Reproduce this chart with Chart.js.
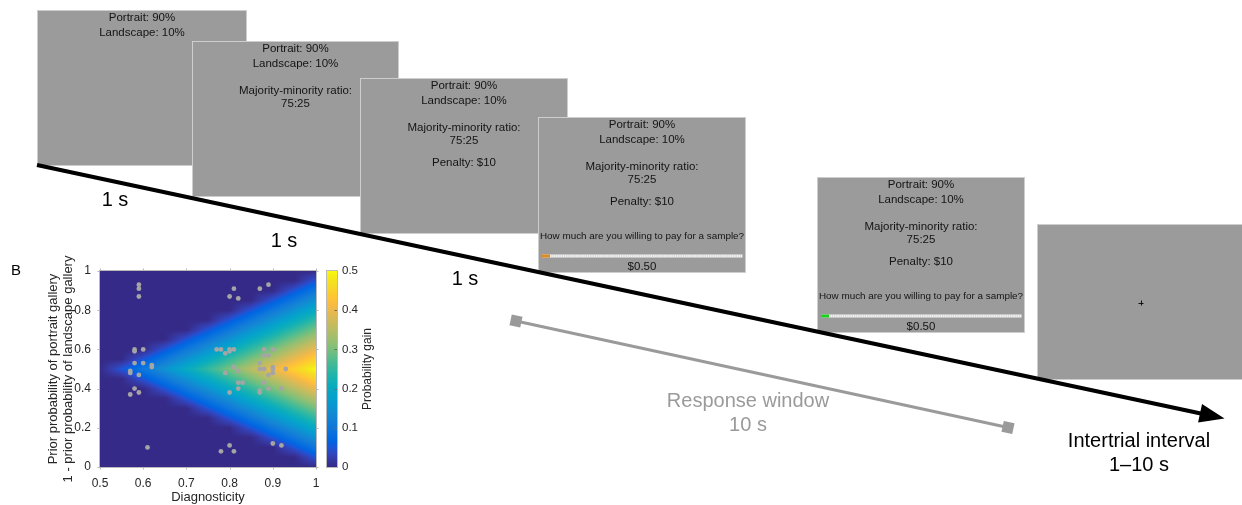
<!DOCTYPE html>
<html>
<head>
<meta charset="utf-8">
<title>Sampling task timeline and probability gain</title>
<script src="https://cdn.jsdelivr.net/npm/chart.js@4.4.1/dist/chart.umd.min.js"></script>
<style>
  html, body { margin: 0; padding: 0; background: #ffffff; }
  #wrap { position: relative; width: 1242px; height: 505px; overflow: hidden; }
  canvas { display: block; }
</style>
</head>
<body>
<div id="wrap"><canvas id="fig" width="1242" height="505"></canvas></div>
<script>
// ---------- Panel B data ----------
// Probability gain surface, sampled on a diagnosticity x prior grid
const diagnosticityGrid = [0.50, 0.55, 0.60, 0.65, 0.70, 0.75, 0.80, 0.85, 0.90, 0.95, 1.00];
const priorGrid = [0.00, 0.05, 0.10, 0.15, 0.20, 0.25, 0.30, 0.35, 0.40, 0.45, 0.50,
                   0.55, 0.60, 0.65, 0.70, 0.75, 0.80, 0.85, 0.90, 0.95, 1.00];
// one row per prior value (bottom to top), one column per diagnosticity value
const gainGrid = [
  [0, 0, 0, 0, 0, 0, 0, 0, 0, 0, 0],
  [0, 0, 0, 0, 0, 0, 0, 0, 0, 0, 0.05],
  [0, 0, 0, 0, 0, 0, 0, 0, 0, 0.05, 0.10],
  [0, 0, 0, 0, 0, 0, 0, 0, 0.05, 0.10, 0.15],
  [0, 0, 0, 0, 0, 0, 0, 0.05, 0.10, 0.15, 0.20],
  [0, 0, 0, 0, 0, 0, 0.05, 0.10, 0.15, 0.20, 0.25],
  [0, 0, 0, 0, 0, 0.05, 0.10, 0.15, 0.20, 0.25, 0.30],
  [0, 0, 0, 0, 0.05, 0.10, 0.15, 0.20, 0.25, 0.30, 0.35],
  [0, 0, 0, 0.05, 0.10, 0.15, 0.20, 0.25, 0.30, 0.35, 0.40],
  [0, 0, 0.05, 0.10, 0.15, 0.20, 0.25, 0.30, 0.35, 0.40, 0.45],
  [0, 0.05, 0.10, 0.15, 0.20, 0.25, 0.30, 0.35, 0.40, 0.45, 0.50],
  [0, 0, 0.05, 0.10, 0.15, 0.20, 0.25, 0.30, 0.35, 0.40, 0.45],
  [0, 0, 0, 0.05, 0.10, 0.15, 0.20, 0.25, 0.30, 0.35, 0.40],
  [0, 0, 0, 0, 0.05, 0.10, 0.15, 0.20, 0.25, 0.30, 0.35],
  [0, 0, 0, 0, 0, 0.05, 0.10, 0.15, 0.20, 0.25, 0.30],
  [0, 0, 0, 0, 0, 0, 0.05, 0.10, 0.15, 0.20, 0.25],
  [0, 0, 0, 0, 0, 0, 0, 0.05, 0.10, 0.15, 0.20],
  [0, 0, 0, 0, 0, 0, 0, 0, 0.05, 0.10, 0.15],
  [0, 0, 0, 0, 0, 0, 0, 0, 0, 0.05, 0.10],
  [0, 0, 0, 0, 0, 0, 0, 0, 0, 0, 0.05],
  [0, 0, 0, 0, 0, 0, 0, 0, 0, 0, 0]
];

// Trial conditions shown to participants
const sampleDiagnosticity = [
  0.59, 0.59, 0.59, 0.58, 0.58, 0.60, 0.58, 0.60, 0.62, 0.62, 0.57, 0.57, 0.59, 0.58, 0.59, 0.57, 0.61,
  0.81, 0.80, 0.82, 0.87, 0.89,
  0.77, 0.78, 0.79, 0.80, 0.80, 0.81, 0.88, 0.90, 0.88, 0.89,
  0.87, 0.81, 0.82, 0.87, 0.88, 0.90, 0.90, 0.90, 0.93, 0.89, 0.79,
  0.82, 0.83, 0.88, 0.82, 0.89, 0.92, 0.87, 0.87, 0.80,
  0.78, 0.80, 0.81, 0.90, 0.92
];
const samplePrior = [
  0.93, 0.91, 0.87, 0.60, 0.59, 0.60, 0.53, 0.53, 0.52, 0.51, 0.49, 0.48, 0.47, 0.40, 0.38, 0.37, 0.10,
  0.91, 0.87, 0.86, 0.91, 0.93,
  0.60, 0.60, 0.58, 0.60, 0.59, 0.60, 0.60, 0.60, 0.57, 0.57,
  0.53, 0.51, 0.49, 0.50, 0.50, 0.51, 0.50, 0.48, 0.50, 0.47, 0.48,
  0.43, 0.43, 0.43, 0.40, 0.40, 0.40, 0.39, 0.38, 0.38,
  0.08, 0.11, 0.08, 0.12, 0.11
];

const diagnosticityTicks = [0.5, 0.6, 0.7, 0.8, 0.9, 1];
const priorTicks = [0, 0.2, 0.4, 0.6, 0.8, 1];
const gainTicks = [0, 0.1, 0.2, 0.3, 0.4, 0.5];

// ---------- Panel A content ----------
const priorLines = ['Portrait: 90%', 'Landscape: 10%'];
const ratioLines = ['Majority-minority ratio:', '75:25'];
const penaltyLine = 'Penalty: $10';
const questionLine = 'How much are you willing to pay for a sample?';
const bidLine = '$0.50';
const stageLabels = ['1 s', '1 s', '1 s'];
const responseLabel = ['Response window', '10 s'];
const itiLabel = ['Intertrial interval', '1\u201310 s'];

// ---------- helpers ----------
const FONT = "'Liberation Sans', Arial, Helvetica, sans-serif";
Chart.defaults.font.family = FONT;
const TEXT_DARK = '#262626';

// parula colour map (every other entry of the 64-step table)
const PARULA = [
  [53,42,135],[54,55,160],[50,67,186],[32,83,212],[3,99,225],[4,109,224],[13,117,220],[18,125,216],
  [20,133,212],[16,142,210],[9,152,209],[6,160,205],[6,167,198],[10,172,190],[21,177,180],[37,181,169],
  [56,185,158],[77,188,146],[101,190,134],[124,191,123],[146,191,115],[165,190,107],[183,189,100],[200,188,93],
  [217,186,86],[233,185,78],[248,186,68],[255,195,55],[252,206,46],[247,217,38],[245,228,29],[246,242,19],[249,251,14]
];
const PARULA_POS = PARULA.map((_, i) => (i < 32 ? (2 * i) / 63 : 1));

function parula(t) {
  t = Math.max(0, Math.min(1, t));
  let k = 0;
  while (k < PARULA_POS.length - 2 && t > PARULA_POS[k + 1]) k++;
  const a = PARULA_POS[k], b = PARULA_POS[k + 1];
  const f = b > a ? (t - a) / (b - a) : 0;
  const c0 = PARULA[k], c1 = PARULA[k + 1];
  return [c0[0] + (c1[0] - c0[0]) * f, c0[1] + (c1[1] - c0[1]) * f, c0[2] + (c1[2] - c0[2]) * f];
}

function locate(arr, v) {
  if (v <= arr[0]) return 0;
  if (v >= arr[arr.length - 1]) return arr.length - 1;
  let k = 0;
  while (k < arr.length - 2 && v > arr[k + 1]) k++;
  return k + (v - arr[k]) / (arr[k + 1] - arr[k]);
}

function gainAt(d, p) {
  const fi = locate(diagnosticityGrid, d), fj = locate(priorGrid, p);
  const i0 = Math.floor(fi), j0 = Math.floor(fj);
  const i1 = Math.min(i0 + 1, diagnosticityGrid.length - 1);
  const j1 = Math.min(j0 + 1, priorGrid.length - 1);
  const u = fi - i0, v = fj - j0;
  const g00 = gainGrid[j0][i0], g10 = gainGrid[j0][i1], g01 = gainGrid[j1][i0], g11 = gainGrid[j1][i1];
  return (g00 * (1 - u) + g10 * u) * (1 - v) + (g01 * (1 - u) + g11 * u) * v;
}

const fmtTick = v => (Number.isInteger(v) ? String(v) : v.toFixed(1));

// ---------- Panel A: trial timeline ----------
const SCREEN_W = 208, SCREEN_H = 156;
const screens = [
  { x: 37,   y: 10,  w: 210, rows: priorLines },
  { x: 192,  y: 41,  w: 207, rows: priorLines.concat(ratioLines) },
  { x: 360,  y: 78,  w: 208, rows: priorLines.concat(ratioLines, [penaltyLine]) },
  { x: 538,  y: 117, w: 208, rows: priorLines.concat(ratioLines, [penaltyLine]), slider: '#e0891c' },
  { x: 817,  y: 177, w: 208, rows: priorLines.concat(ratioLines, [penaltyLine]), slider: '#1fd11f' },
  { x: 1037, y: 224, w: 215, rows: [], fixation: true }
];
const ROW_OFFSETS = [8, 22.5, 50, 62.5, 85];

function drawScreen(ctx, s) {
  ctx.fillStyle = '#9b9b9b';
  ctx.fillRect(s.x, s.y, s.w, SCREEN_H);
  ctx.strokeStyle = 'rgba(228,228,228,0.7)';
  ctx.lineWidth = 1;
  ctx.strokeRect(s.x + 0.5, s.y + 0.5, s.w - 1, SCREEN_H - 1);
  const cx = s.x + s.w / 2;
  ctx.fillStyle = '#141414';
  ctx.textAlign = 'center';
  ctx.textBaseline = 'middle';
  ctx.font = '11.5px ' + FONT;
  s.rows.forEach((t, i) => ctx.fillText(t, cx, s.y + ROW_OFFSETS[i]));
  if (s.slider) {
    ctx.font = '9.9px ' + FONT;
    ctx.fillText(questionLine, cx, s.y + 119.5);
    const x0 = s.x + 4, x1 = s.x + s.w - 3.5, ty = s.y + 139;
    ctx.fillStyle = '#f2f2f2';
    ctx.fillRect(x0, ty - 1.5, x1 - x0, 3);
    ctx.strokeStyle = '#bdbdbd';
    ctx.lineWidth = 1;
    ctx.setLineDash([1, 1.2]);
    ctx.beginPath(); ctx.moveTo(x0, ty); ctx.lineTo(x1, ty); ctx.stroke();
    ctx.setLineDash([]);
    ctx.fillStyle = s.slider;
    ctx.fillRect(x0, ty - 1.5, 8, 3);
    ctx.fillStyle = '#141414';
    ctx.font = '11.5px ' + FONT;
    ctx.fillText(bidLine, cx, s.y + 150);
  }
  if (s.fixation) {
    const fx = s.x + 104, fy = s.y + 79;
    ctx.strokeStyle = '#111';
    ctx.lineWidth = 1;
    ctx.beginPath();
    ctx.moveTo(fx - 2.5, fy + 0.5); ctx.lineTo(fx + 2.5, fy + 0.5);
    ctx.moveTo(fx + 0.5, fy - 2.5); ctx.lineTo(fx + 0.5, fy + 2.5);
    ctx.stroke();
  }
}

function drawSquareCap(ctx, x, y, ang, size) {
  ctx.save();
  ctx.translate(x, y);
  ctx.rotate(ang);
  ctx.fillRect(-size / 2, -size / 2, size, size);
  ctx.restore();
}

const timelinePlugin = {
  id: 'timeline',
  beforeDraw(chart) {
    const ctx = chart.ctx;
    ctx.save();
    ctx.fillStyle = '#ffffff';
    ctx.fillRect(0, 0, chart.width, chart.height);

    screens.forEach(s => drawScreen(ctx, s));

    // main time arrow
    const ax0 = 37, ay0 = 165, ax1 = 1224.5, ay1 = 418.5;
    const ang = Math.atan2(ay1 - ay0, ax1 - ax0);
    const headLen = 25, headHalf = 9.5;
    const bx = ax1 - headLen * Math.cos(ang), by = ay1 - headLen * Math.sin(ang);
    ctx.strokeStyle = '#000';
    ctx.lineWidth = 4;
    ctx.beginPath(); ctx.moveTo(ax0, ay0); ctx.lineTo(bx + 2 * Math.cos(ang), by + 2 * Math.sin(ang)); ctx.stroke();
    ctx.fillStyle = '#000';
    ctx.beginPath();
    ctx.moveTo(ax1, ay1);
    ctx.lineTo(bx - headHalf * Math.sin(ang), by + headHalf * Math.cos(ang));
    ctx.lineTo(bx + headHalf * Math.sin(ang), by - headHalf * Math.cos(ang));
    ctx.closePath();
    ctx.fill();

    // response window bracket
    const rx0 = 516, ry0 = 321, rx1 = 1008, ry1 = 427.5;
    const rang = Math.atan2(ry1 - ry0, rx1 - rx0);
    ctx.strokeStyle = '#9a9a9a';
    ctx.fillStyle = '#9a9a9a';
    ctx.lineWidth = 3;
    ctx.beginPath(); ctx.moveTo(rx0, ry0); ctx.lineTo(rx1, ry1); ctx.stroke();
    drawSquareCap(ctx, rx0, ry0, rang, 11);
    drawSquareCap(ctx, rx1, ry1, rang, 11);

    // labels
    ctx.textAlign = 'center';
    ctx.textBaseline = 'middle';
    ctx.font = '20px ' + FONT;
    ctx.fillStyle = '#000';
    const stagePos = [[115, 200], [284, 241], [465, 279]];
    stageLabels.forEach((t, i) => ctx.fillText(t, stagePos[i][0], stagePos[i][1]));
    ctx.fillStyle = '#9a9a9a';
    ctx.fillText(responseLabel[0], 748, 401);
    ctx.fillText(responseLabel[1], 748, 425);
    ctx.fillStyle = '#000';
    ctx.fillText(itiLabel[0], 1139, 441);
    ctx.fillText(itiLabel[1], 1139, 465);

    // panel letter
    ctx.font = '15px ' + FONT;
    ctx.textAlign = 'left';
    ctx.fillText('B', 11, 271);
    ctx.restore();
  }
};

// ---------- Panel B: heat map, colour bar and frame ----------
const heatmapPlugin = {
  id: 'heatmap',
  beforeDatasetsDraw(chart) {
    const { ctx, chartArea: a, scales } = chart;
    const xs = scales.x, ys = scales.y, gs = scales.yGain;
    const left = Math.round(a.left), top = Math.round(a.top);
    const w = Math.round(a.right) - left, h = Math.round(a.bottom) - top;
    const img = ctx.createImageData(w, h);
    for (let j = 0; j < h; j++) {
      const p = ys.getValueForPixel(top + j + 0.5);
      for (let i = 0; i < w; i++) {
        const d = xs.getValueForPixel(left + i + 0.5);
        const c = parula(gainAt(d, p) / gs.max);
        const o = (j * w + i) * 4;
        img.data[o] = c[0]; img.data[o + 1] = c[1]; img.data[o + 2] = c[2]; img.data[o + 3] = 255;
      }
    }
    ctx.putImageData(img, left, top);

    // colour bar drawn along the gain scale
    const cbx0 = Math.round(gs.left + 11), cbw = 10;
    const cTop = Math.round(gs.getPixelForValue(gs.max)), cBot = Math.round(gs.getPixelForValue(gs.min));
    for (let py = cTop; py < cBot; py++) {
      const c = parula(gs.getValueForPixel(py + 0.5) / gs.max);
      ctx.fillStyle = `rgb(${c[0] | 0},${c[1] | 0},${c[2] | 0})`;
      ctx.fillRect(cbx0, py, cbw, 1);
    }
    ctx.save();
    ctx.strokeStyle = '#b9b9b9';
    ctx.lineWidth = 1;
    ctx.strokeRect(cbx0 - 0.5, cTop - 0.5, cbw + 1, cBot - cTop + 1);
    ctx.strokeStyle = '#6b6b6b';
    ctx.beginPath();
    gainTicks.forEach(v => {
      if (v === gs.min || v === gs.max) return;
      const py = Math.round(gs.getPixelForValue(v)) + 0.5;
      ctx.moveTo(cbx0 + cbw - 2.5, py); ctx.lineTo(cbx0 + cbw, py);
    });
    ctx.stroke();

    // colour bar label
    ctx.fillStyle = TEXT_DARK;
    ctx.font = '12px ' + FONT;
    ctx.textAlign = 'center';
    ctx.textBaseline = 'middle';
    ctx.translate(gs.left + 52, (cTop + cBot) / 2);
    ctx.rotate(-Math.PI / 2);
    ctx.fillText('Probability gain', 0, 0);
    ctx.restore();
  },
  afterDatasetsDraw(chart) {
    const { ctx, chartArea: a, scales } = chart;
    ctx.save();
    ctx.strokeStyle = '#b9b9b9';
    ctx.lineWidth = 1;
    ctx.strokeRect(Math.round(a.left) - 0.5, Math.round(a.top) - 0.5,
                   Math.round(a.right) - Math.round(a.left) + 1, Math.round(a.bottom) - Math.round(a.top) + 1);
    ctx.beginPath();
    diagnosticityTicks.forEach(v => {
      const px = Math.round(scales.x.getPixelForValue(v)) + 0.5;
      ctx.moveTo(px, a.top - 0.5); ctx.lineTo(px, a.top - 2.5);
      ctx.moveTo(px, a.bottom + 0.5); ctx.lineTo(px, a.bottom + 2.5);
    });
    priorTicks.forEach(v => {
      const py = Math.round(scales.y.getPixelForValue(v)) + 0.5;
      ctx.moveTo(a.left - 0.5, py); ctx.lineTo(a.left - 2.5, py);
      ctx.moveTo(a.right + 0.5, py); ctx.lineTo(a.right + 2.5, py);
    });
    ctx.stroke();
    ctx.restore();
  }
};

const tickFont = { family: FONT, size: 12 };

new Chart(document.getElementById('fig'), {
  type: 'scatter',
  data: {
    datasets: [{
      label: 'Trial conditions',
      data: sampleDiagnosticity.map((d, i) => ({ x: d, y: samplePrior[i] })),
      pointBackgroundColor: '#a5a5a5',
      pointBorderWidth: 0,
      pointRadius: 2.4,
      pointHoverRadius: 2.4
    }]
  },
  options: {
    responsive: false,
    animation: false,
    devicePixelRatio: 1,
    events: [],
    layout: { padding: { left: 40, top: 271, right: 866, bottom: 0 } },
    plugins: { legend: { display: false }, tooltip: { enabled: false } },
    scales: {
      x: {
        type: 'linear', position: 'bottom', min: 0.5, max: 1,
        afterBuildTicks: s => { s.ticks = diagnosticityTicks.map(v => ({ value: v })); },
        afterFit: s => { s.height = 38; },
        border: { display: false },
        grid: { display: false, drawTicks: false },
        ticks: { padding: 9, color: TEXT_DARK, font: tickFont, autoSkip: false, maxRotation: 0, callback: fmtTick },
        title: { display: true, text: 'Diagnosticity', color: TEXT_DARK, font: { family: FONT, size: 13 }, padding: { top: 0, bottom: 0 } }
      },
      y: {
        type: 'linear', position: 'left', min: 0, max: 1,
        afterBuildTicks: s => { s.ticks = priorTicks.map(v => ({ value: v })); },
        afterFit: s => { s.width = 60; },
        border: { display: false },
        grid: { display: false, drawTicks: false },
        ticks: { padding: 9, color: TEXT_DARK, font: tickFont, autoSkip: false, callback: fmtTick },
        title: {
          display: true,
          text: ['Prior probability of portrait gallery', '1 - prior probability of landscape gallery'],
          color: TEXT_DARK, font: { family: FONT, size: 13, lineHeight: 1.15 }, padding: { top: 6, bottom: 0 }
        }
      },
      yGain: {
        type: 'linear', axis: 'y', position: 'right', min: 0, max: 0.5,
        afterBuildTicks: s => { s.ticks = gainTicks.map(v => ({ value: v })); },
        afterFit: s => { s.width = 60; },
        border: { display: false },
        grid: { display: false, drawTicks: false },
        ticks: { padding: 26, color: TEXT_DARK, font: { family: FONT, size: 11.5 }, autoSkip: false, callback: fmtTick }
      }
    }
  },
  plugins: [timelinePlugin, heatmapPlugin]
});
</script>
</body>
</html>
